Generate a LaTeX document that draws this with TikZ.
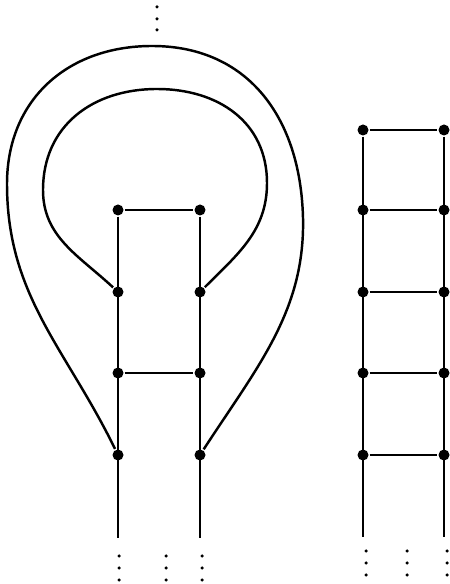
\documentclass[tikz,border=0pt]{standalone}
\usetikzlibrary{positioning}
\begin{document}
\begin{tikzpicture}[x=0.02cm, y=0.02cm, line width=1.4pt,
  every node/.style={circle, draw=none, fill=black, inner sep=0pt, minimum size=0.22cm},
  pt/.style={minimum size=0.07cm},
  rung/.style={line width=1pt}]
  \useasboundingbox (0,0) rectangle (449,584);
  % left part
  \foreach \i/\y in {1/374,2/292,3/211,4/129} {
    \node (a\i) at (118,\y) {};
    \node (b\i) at (200,\y) {};
  }
  \coordinate (ae) at (118,46);
  \coordinate (be) at (200,46);
  \draw (a1) -- (ae);
  \draw (b1) -- (be);
  \draw[rung] (a1) -- (b1);
  \draw[rung] (a3) -- (b3);
  \draw (a2) to[out=137,in=270] (43,394) to[out=90,in=180,looseness=1.08] (157,495)
    to[out=0,in=90,looseness=1.08] (267,401) to[out=270,in=45] (b2);
  \draw (a4) to[out=116,in=270] (7,400) to[out=90,in=180,looseness=1.08] (152,538)
    to[out=0,in=95,looseness=1.08] (302,384) to[out=275,in=57] (b4);
  % right ladder
  \foreach \i/\y in {1/454,2/374,3/292,4/211,5/129} {
    \node (c\i) at (363,\y) {};
    \node (d\i) at (444,\y) {};
    \draw[rung] (c\i) -- (d\i);
  }
  \coordinate (ce) at (363,47);
  \coordinate (de) at (444,47);
  \draw (c1) -- (ce);
  \draw (d1) -- (de);
  % dots
  \foreach \j/\y in {1/577,2/565,3/554}
    \node[pt] (t\j) at (157,\y) {};
  \foreach \n/\x in {p/119,q/166,r/202}
    \foreach \j/\y in {1/28,2/16,3/4}
      \node[pt] (\n\j) at (\x,\y) {};
  \foreach \n/\x in {u/366,v/407,w/447}
    \foreach \j/\y in {1/33,2/21,3/9}
      \node[pt] (\n\j) at (\x,\y) {};
\end{tikzpicture}
\end{document}
